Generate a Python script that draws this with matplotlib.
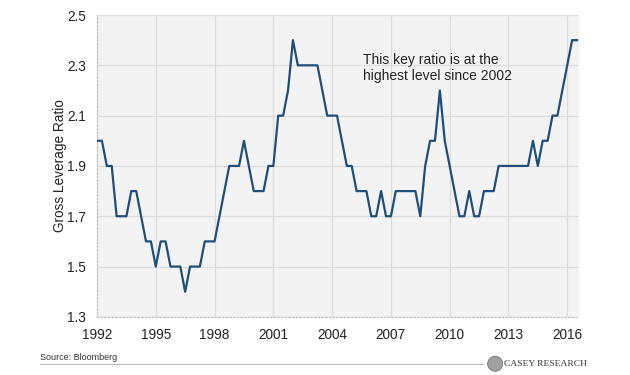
import numpy as np
import matplotlib.pyplot as plt
from matplotlib.patches import Ellipse

# quarterly gross leverage ratio, starting Q1 1992
ratio = [2.0, 2.0, 1.9, 1.9, 1.7, 1.7, 1.7, 1.8, 1.8, 1.7,
         1.6, 1.6, 1.5, 1.6, 1.6, 1.5, 1.5, 1.5, 1.4, 1.5,
         1.5, 1.5, 1.6, 1.6, 1.6, 1.7, 1.8, 1.9, 1.9, 1.9,
         2.0, 1.9, 1.8, 1.8, 1.8, 1.9, 1.9, 2.1, 2.1, 2.2,
         2.4, 2.3, 2.3, 2.3, 2.3, 2.3, 2.2, 2.1, 2.1, 2.1,
         2.0, 1.9, 1.9, 1.8, 1.8, 1.8, 1.7, 1.7, 1.8, 1.7,
         1.7, 1.8, 1.8, 1.8, 1.8, 1.8, 1.7, 1.9, 2.0, 2.0,
         2.2, 2.0, 1.9, 1.8, 1.7, 1.7, 1.8, 1.7, 1.7, 1.8,
         1.8, 1.8, 1.9, 1.9, 1.9, 1.9, 1.9, 1.9, 1.9, 2.0,
         1.9, 2.0, 2.0, 2.1, 2.1, 2.2, 2.3, 2.4, 2.4]
start_year = 1992
x_ticks = [1992, 1995, 1998, 2001, 2004, 2007, 2010, 2013, 2016]
y_ticks = [1.3, 1.5, 1.7, 1.9, 2.1, 2.3, 2.5]

years = start_year + np.arange(len(ratio)) / 4

plt.rcParams['font.family'] = ['Liberation Sans', 'DejaVu Sans']

fig = plt.figure(figsize=(6.3, 3.75), dpi=100)
ax = fig.add_axes([0.154, 0.155, 0.765, 0.805])
ax.set_facecolor('#f3f3f3')

ax.plot(years, ratio, color='#1f4e79', lw=1.6, zorder=3)

ax.set_xlim(1992, 2016.6)
ax.set_ylim(1.3, 2.5)
ax.set_xticks(x_ticks)
ax.set_yticks(y_ticks)
ax.set_yticklabels([f'{v:.1f}' for v in y_ticks])
ax.tick_params(length=0, labelsize=9.8, colors='#222222', pad=8)
ax.grid(True, color='#dcdcdc', lw=0.9)
ax.set_axisbelow(True)

for s in ['top', 'right']:
    ax.spines[s].set_visible(False)
for s in ['left', 'bottom']:
    ax.spines[s].set_color('#c8c8c8')
    ax.spines[s].set_linestyle(':')
    ax.spines[s].set_linewidth(1)

ax.set_ylabel('Gross Leverage Ratio', fontsize=9.8, color='#222222', labelpad=0)

ax.text(2005.6, 2.29, 'This key ratio is at the\nhighest level since 2002',
        fontsize=10, color='#222222', va='center', ha='left', linespacing=1.2)

# footer
fig.text(0.064, 0.048, 'Source: Bloomberg', fontsize=6.5, color='#333333', va='center')
fig.add_artist(plt.Line2D([0.064, 0.767], [0.029, 0.029], color='#bbbbbb', lw=0.8))
fig.add_artist(Ellipse((0.786, 0.03), 0.024, 0.04, transform=fig.transFigure,
                       fc='#a0a0a0', ec='#666666', lw=0.5))
fig.text(0.8, 0.03, 'CASEY RESEARCH', fontsize=6.8, color='#333333',
         va='center', family='Liberation Serif')

plt.savefig('out.png', dpi=100)
